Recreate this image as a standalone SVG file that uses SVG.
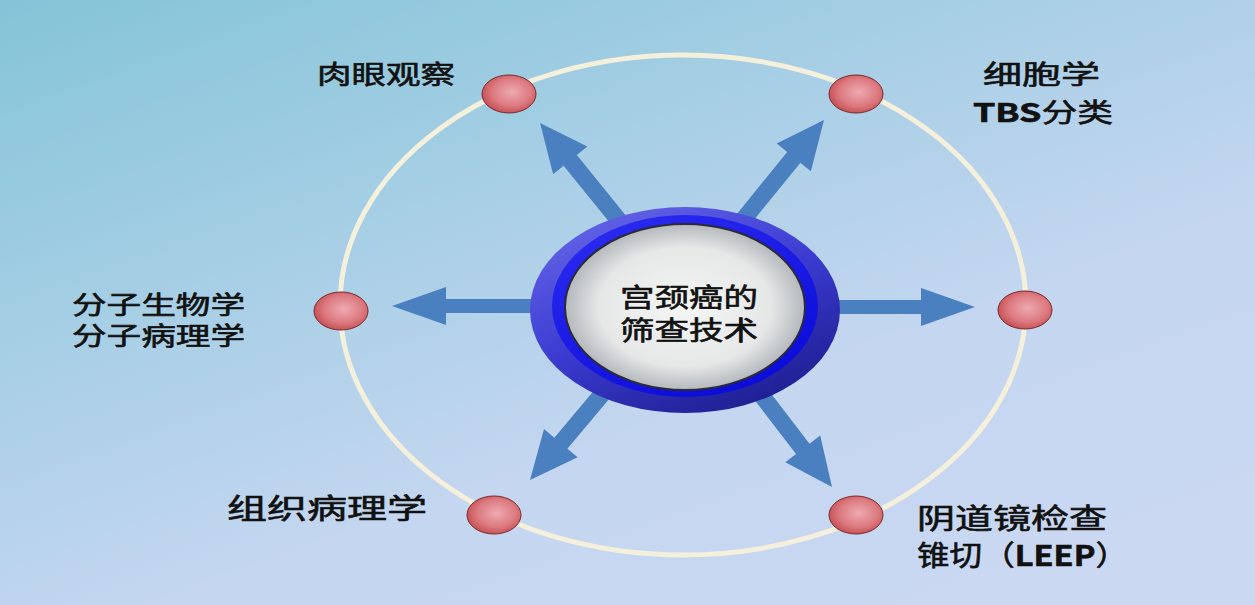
<svg xmlns="http://www.w3.org/2000/svg" width="1255" height="605" viewBox="0 0 1255 605">
  <defs>
    <linearGradient id="bg" x1="0" y1="0" x2="0.75" y2="1">
      <stop offset="0" stop-color="#84c4d8"/>
      <stop offset="0.35" stop-color="#a4cee4"/>
      <stop offset="0.7" stop-color="#c4d6f0"/>
      <stop offset="1" stop-color="#cad8f2"/>
    </linearGradient>
    <radialGradient id="dot" cx="0.55" cy="0.45" r="0.6">
      <stop offset="0" stop-color="#eeaab2"/>
      <stop offset="0.6" stop-color="#dc7a80"/>
      <stop offset="1" stop-color="#c24a4e"/>
    </radialGradient>
    <linearGradient id="ringOuter" x1="0.2" y1="0" x2="0.8" y2="1">
      <stop offset="0" stop-color="#6464e8"/>
      <stop offset="0.5" stop-color="#3a3ad0"/>
      <stop offset="1" stop-color="#1c1c8c"/>
    </linearGradient>
    <linearGradient id="ringInner" x1="0.2" y1="0" x2="0.8" y2="1">
      <stop offset="0" stop-color="#2a2af0"/>
      <stop offset="1" stop-color="#0a0ad8"/>
    </linearGradient>
    <radialGradient id="lens" cx="0.5" cy="0.5" r="0.55">
      <stop offset="0" stop-color="#f4f6f6"/>
      <stop offset="0.65" stop-color="#e6e8e8"/>
      <stop offset="1" stop-color="#a4a8ac"/>
    </radialGradient>
    <path id="arrH" d="M0,0 L-54,-19 L-54,-7 L-170,-7 L-170,7 L-54,7 L-54,19 Z"/>
    <path id="arrD" d="M0,0 L-48,-22 L-48,-8.5 L-170,-8.5 L-170,8.5 L-48,8.5 L-48,22 Z"/>
    <style>
      .lbl { font-family: "Noto Sans CJK SC", "Liberation Sans", sans-serif; fill: #111; stroke: #111; stroke-width: 0.6; }
      .dotc { fill: url(#dot); stroke: #7a2a2a; stroke-width: 1; }
      .arrow { fill: #4a80c0; }
    </style>
  </defs>

  <rect x="0" y="0" width="1255" height="605" fill="url(#bg)"/>

  <g id="orbit">
    <ellipse cx="683" cy="305" rx="343" ry="250" fill="none" stroke="#f4f0dc" stroke-width="5"/>
  </g>

  <g id="connectors">
    <use href="#arrH" class="arrow" transform="translate(392,306) rotate(180)"/>
    <use href="#arrH" class="arrow" transform="translate(975,307)"/>
    <use href="#arrD" class="arrow" transform="translate(540,123) rotate(-129)"/>
    <use href="#arrD" class="arrow" transform="translate(824,120) rotate(-51)"/>
    <use href="#arrD" class="arrow" transform="translate(530,480) rotate(130)"/>
    <use href="#arrD" class="arrow" transform="translate(832,487) rotate(52.5)"/>
  </g>

  <g id="center">
    <ellipse cx="685" cy="310" rx="155" ry="103" fill="url(#ringOuter)"/>
    <ellipse cx="685" cy="306" rx="133" ry="91" fill="url(#ringInner)"/>
    <ellipse cx="685" cy="307" rx="120" ry="83" fill="url(#lens)" stroke="#2a2a3a" stroke-width="2"/>
    <text class="lbl" x="620" y="307" font-size="26" textLength="138" lengthAdjust="spacingAndGlyphs">宫颈癌的</text>
    <text class="lbl" x="620" y="340" font-size="26" textLength="138" lengthAdjust="spacingAndGlyphs">筛查技术</text>
  </g>

  <g id="node-rouyan">
    <ellipse class="dotc" cx="509" cy="94" rx="27" ry="19"/>
    <text class="lbl" x="317" y="84" font-size="26" textLength="138" lengthAdjust="spacingAndGlyphs">肉眼观察</text>
  </g>

  <g id="node-xibao">
    <ellipse class="dotc" cx="856" cy="94" rx="27" ry="19"/>
    <text class="lbl" x="983" y="84" font-size="26" textLength="117" lengthAdjust="spacingAndGlyphs">细胞学</text>
    <text class="lbl" x="973" y="122" font-size="26" textLength="140" lengthAdjust="spacingAndGlyphs"><tspan font-weight="bold">TBS</tspan>分类</text>
  </g>

  <g id="node-fenzi">
    <ellipse class="dotc" cx="341" cy="311" rx="27" ry="19"/>
    <text class="lbl" x="72" y="314" font-size="25" textLength="173" lengthAdjust="spacingAndGlyphs">分子生物学</text>
    <text class="lbl" x="72" y="345" font-size="25" textLength="173" lengthAdjust="spacingAndGlyphs">分子病理学</text>
  </g>

  <g id="node-right">
    <ellipse class="dotc" cx="1025" cy="310" rx="27" ry="19"/>
  </g>

  <g id="node-zuzhi">
    <ellipse class="dotc" cx="494" cy="515" rx="27" ry="19"/>
    <text class="lbl" x="227" y="519" font-size="28" textLength="200" lengthAdjust="spacingAndGlyphs">组织病理学</text>
  </g>

  <g id="node-yindao">
    <ellipse class="dotc" cx="856" cy="515" rx="27" ry="19"/>
    <text class="lbl" x="917" y="529" font-size="28" textLength="190" lengthAdjust="spacingAndGlyphs">阴道镜检查</text>
    <text class="lbl" x="917" y="566" font-size="28" textLength="211" lengthAdjust="spacingAndGlyphs">锥切（<tspan font-weight="bold">LEEP</tspan>）</text>
  </g>
</svg>
